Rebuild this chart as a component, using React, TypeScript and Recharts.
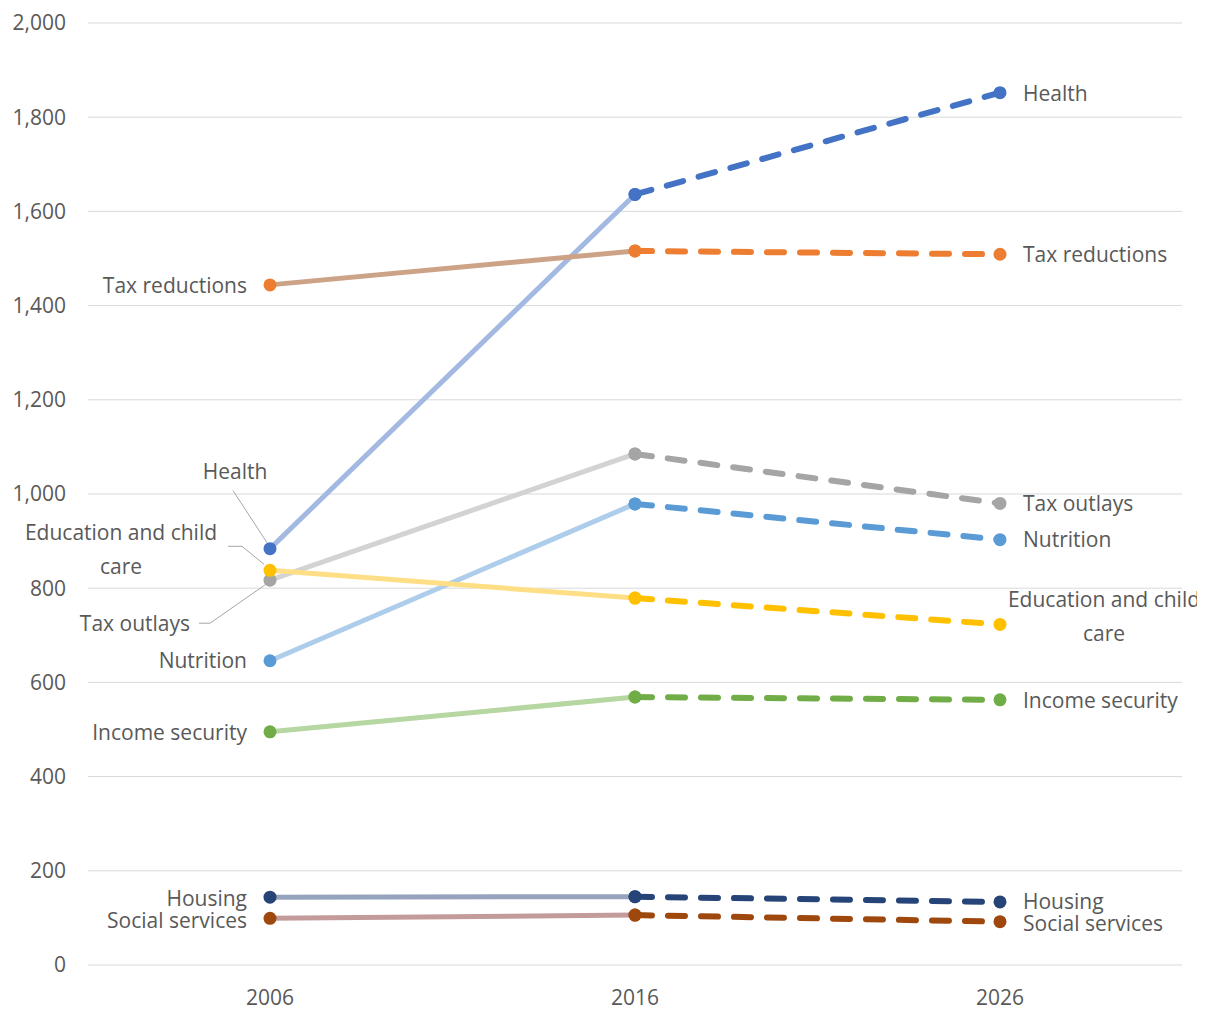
import React from 'react';
import { LineChart, Line, XAxis, YAxis, CartesianGrid } from 'recharts';

// ---- data ----
const categories = ['2006', '2016', '2026'];
const yTicks = [0, 200, 400, 600, 800, 1000, 1200, 1400, 1600, 1800, 2000];

const health = [884, 1636, 1852];
const taxReductions = [1444, 1516, 1509];
const taxOutlays = [817, 1085, 980];
const nutrition = [646, 979, 903];
const educationChildCare = [838, 779, 723];
const incomeSecurity = [495, 569, 563];
const housing = [144, 145, 134];
const socialServices = [99, 106, 92];

const seriesNames: Record<string, string[]> = {
  health: ['Health'],
  taxReductions: ['Tax reductions'],
  taxOutlays: ['Tax outlays'],
  nutrition: ['Nutrition'],
  educationChildCare: ['Education and child', 'care'],
  incomeSecurity: ['Income security'],
  housing: ['Housing'],
  socialServices: ['Social services'],
};

// ---- styling ----
const FONT = "'Open Sans', 'Noto Sans', sans-serif";
const TEXT = '#595959';
const FS = 21;

type Layout = { dx: number; dy: number; anchor: 'start' | 'middle' | 'end'; gap?: number; leader?: number[][] };

const series = [
  { id: 'health', values: health, color: '#4472C4', faded: '#A3B9E2' },
  { id: 'taxReductions', values: taxReductions, color: '#ED7D31', faded: '#CDA387' },
  { id: 'taxOutlays', values: taxOutlays, color: '#A5A5A5', faded: '#D3D3D3' },
  { id: 'nutrition', values: nutrition, color: '#5B9BD5', faded: '#ADCDEB' },
  { id: 'educationChildCare', values: educationChildCare, color: '#FFC000', faded: '#FFDF85' },
  { id: 'incomeSecurity', values: incomeSecurity, color: '#70AD47', faded: '#B6D6A2' },
  { id: 'housing', values: housing, color: '#264478', faded: '#95A3BC' },
  { id: 'socialServices', values: socialServices, color: '#9E480E', faded: '#C49B9B' },
];

const leftLayout: Record<string, Layout> = {
  health: { dx: -35, dy: -77, anchor: 'middle', leader: [[-37, -58], [-3, -6]] },
  taxReductions: { dx: -23, dy: 1, anchor: 'end' },
  taxOutlays: { dx: -80, dy: 43, anchor: 'end', leader: [[-71, 43], [-60, 43], [-4, 4]] },
  nutrition: { dx: -23, dy: 0, anchor: 'end' },
  educationChildCare: { dx: -149, dy: -38, anchor: 'middle', gap: 34, leader: [[-42, -24], [-28, -24], [-6, -6]] },
  incomeSecurity: { dx: -23, dy: 1, anchor: 'end' },
  housing: { dx: -23, dy: 1, anchor: 'end' },
  socialServices: { dx: -23, dy: 2, anchor: 'end' },
};

const rightLayout: Record<string, Layout> = {
  health: { dx: 23, dy: 1, anchor: 'start' },
  taxReductions: { dx: 23, dy: 0, anchor: 'start' },
  taxOutlays: { dx: 23, dy: 0, anchor: 'start' },
  nutrition: { dx: 23, dy: 0, anchor: 'start' },
  educationChildCare: { dx: 104, dy: -25, anchor: 'middle', gap: 34 },
  incomeSecurity: { dx: 23, dy: 1, anchor: 'start' },
  housing: { dx: 23, dy: 0, anchor: 'start' },
  socialServices: { dx: 23, dy: 2, anchor: 'start' },
};

const rows = categories.map((year, i) => {
  const row: Record<string, any> = { year };
  series.forEach((s) => {
    row[`${s.id}_a`] = i < 2 ? s.values[i] : null;
    row[`${s.id}_b`] = i > 0 ? s.values[i] : null;
  });
  return row;
});

const renderLabel = (id: string, layout: Layout, cx: number, cy: number) => {
  const lines = seriesNames[id];
  const gap = layout.gap ?? 34;
  return (
    <g>
      {layout.leader && (
        <polyline
          points={layout.leader.map(([x, y]) => `${cx + x},${cy + y}`).join(' ')}
          fill="none"
          stroke="#A6A6A6"
          strokeWidth={1}
        />
      )}
      {lines.map((ln, k) => (
        <text
          key={k}
          x={cx + layout.dx}
          y={cy + layout.dy + k * gap}
          dy="0.35em"
          textAnchor={layout.anchor}
          fill={TEXT}
          fontSize={FS}
          fontFamily={FONT}
        >
          {ln}
        </text>
      ))}
    </g>
  );
};

const makeDot = (s: (typeof series)[number], part: 'a' | 'b') => (props: any) => {
  const { cx, cy, index } = props;
  const k = `${s.id}-${part}-${index}`;
  if (cx == null || cy == null || Number.isNaN(cx) || Number.isNaN(cy)) return <g key={k} />;
  const labelIndex = part === 'a' ? 0 : 2;
  const layout = part === 'a' ? leftLayout[s.id] : rightLayout[s.id];
  return (
    <g key={k}>
      {index === labelIndex && renderLabel(s.id, layout, cx, cy)}
      <circle cx={cx} cy={cy} r={6.5} fill={s.color} stroke="none" />
    </g>
  );
};

export default function App() {
  return (
    <div style={{ width: 1197, height: 1002 }}>
      <style>{`svg.recharts-surface { overflow: visible; }`}</style>
      <LineChart width={1197} height={1002} data={rows} margin={{ top: 15, right: 23, bottom: 0, left: 0 }}>
        <CartesianGrid vertical={false} stroke="#D9D9D9" strokeWidth={1} />
        <XAxis
          dataKey="year"
          padding={{ left: 182, right: 182 }}
          axisLine={false}
          tickLine={false}
          tickSize={0}
          tickMargin={25}
          height={45}
          interval={0}
          tick={{ fill: TEXT, fontSize: FS, fontFamily: FONT }}
        />
        <YAxis
          domain={[0, 2000]}
          ticks={yTicks}
          interval={0}
          width={80}
          axisLine={false}
          tickLine={false}
          tickSize={0}
          tickMargin={22}
          tickFormatter={(v: number) => v.toLocaleString('en-US')}
          tick={{ fill: TEXT, fontSize: FS, fontFamily: FONT }}
        />
        {series.map((s) => (
          <Line
            key={`${s.id}_a`}
            dataKey={`${s.id}_a`}
            stroke={s.faded}
            strokeWidth={5}
            strokeLinecap="round"
            dot={makeDot(s, 'a')}
            activeDot={false}
            connectNulls={false}
            isAnimationActive={false}
          />
        ))}
        {series.map((s) => (
          <Line
            key={`${s.id}_b`}
            dataKey={`${s.id}_b`}
            stroke={s.color}
            strokeWidth={6}
            strokeDasharray="17 16"
            strokeLinecap="round"
            dot={makeDot(s, 'b')}
            activeDot={false}
            connectNulls={false}
            isAnimationActive={false}
          />
        ))}
      </LineChart>
    </div>
  );
}
